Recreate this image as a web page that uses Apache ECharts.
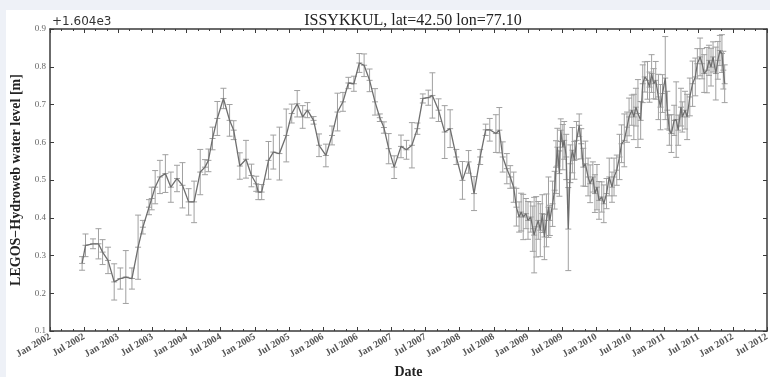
<!DOCTYPE html>
<html>
<head>
<meta charset="utf-8">
<script src="https://cdn.jsdelivr.net/npm/echarts@6/dist/echarts.min.js"></script>
<style>
    html, body { margin: 0; padding: 0; background: #eef1f7; }
    .panel { position: absolute; left: 6px; top: 10px; width: 764px; height: 367px; background: #ffffff; }
    #chart { position: absolute; left: 0; top: 0; width: 770px; height: 377px; }
</style>
</head>
<body>
<div class="panel"></div>
<div id="chart"></div>
<script>
    // water level, minus 1604 m (the axis shows the +1.604e3 offset)
    // time in decimal years
    const envisatTime = [
        2002.47, 2002.52, 2002.63, 2002.71, 2002.77, 2002.85, 2002.94, 2003.03, 2003.11, 2003.20,
        2003.29, 2003.36, 2003.45, 2003.49, 2003.54, 2003.61, 2003.69, 2003.77, 2003.86, 2003.94,
        2004.03, 2004.11, 2004.20, 2004.27, 2004.32, 2004.38, 2004.45, 2004.54, 2004.63, 2004.69,
        2004.78, 2004.87, 2004.95, 2005.02, 2005.05, 2005.10, 2005.20, 2005.27, 2005.36, 2005.46,
        2005.54, 2005.62, 2005.70, 2005.77, 2005.86, 2005.94, 2006.04, 2006.13, 2006.21, 2006.29,
        2006.37, 2006.45, 2006.53, 2006.60, 2006.68, 2006.76, 2006.83, 2006.89, 2006.96, 2007.04,
        2007.14, 2007.22, 2007.30, 2007.38, 2007.46, 2007.54, 2007.60, 2007.69, 2007.78, 2007.86,
        2007.95, 2008.04, 2008.13, 2008.21, 2008.30, 2008.38, 2008.44, 2008.53, 2008.58, 2008.63
    ];
    const envisatLevel = [
        0.279, 0.327, 0.331, 0.331, 0.309, 0.287, 0.230, 0.239, 0.243, 0.239,
        0.322, 0.375, 0.428, 0.451, 0.481, 0.508, 0.517, 0.481, 0.504, 0.486,
        0.442, 0.442, 0.521, 0.534, 0.552, 0.610, 0.663, 0.716, 0.658, 0.632,
        0.537, 0.555, 0.512, 0.490, 0.468, 0.468, 0.552, 0.574, 0.570, 0.618,
        0.676, 0.702, 0.667, 0.685, 0.658, 0.592, 0.565, 0.618, 0.680, 0.707,
        0.757, 0.755, 0.810, 0.804, 0.764, 0.707, 0.665, 0.639, 0.583, 0.534,
        0.589, 0.580, 0.592, 0.636, 0.716, 0.718, 0.724, 0.685, 0.627, 0.636,
        0.561, 0.499, 0.548, 0.464, 0.561, 0.633, 0.633, 0.623, 0.632, 0.561
    ];
    const envisatErr = [
        0.018, 0.030, 0.013, 0.040, 0.033, 0.035, 0.048, 0.028, 0.070, 0.028,
        0.085, 0.018, 0.020, 0.030, 0.044, 0.044, 0.050, 0.040, 0.035, 0.060,
        0.035, 0.055, 0.060, 0.020, 0.030, 0.030, 0.045, 0.027, 0.042, 0.025,
        0.035, 0.050, 0.030, 0.020, 0.020, 0.020, 0.050, 0.045, 0.070, 0.070,
        0.025, 0.035, 0.030, 0.020, 0.010, 0.030, 0.030, 0.025, 0.050, 0.025,
        0.015, 0.020, 0.025, 0.030, 0.030, 0.035, 0.010, 0.015, 0.040, 0.030,
        0.030, 0.025, 0.060, 0.015, 0.012, 0.020, 0.060, 0.030, 0.070, 0.050,
        0.020, 0.050, 0.030, 0.045, 0.020, 0.015, 0.030, 0.050, 0.060, 0.040
    ];
    const jasonTime = [
        2008.69, 2008.74, 2008.79, 2008.83, 2008.87, 2008.90, 2008.93, 2008.97, 2009.00, 2009.04,
        2009.07, 2009.09, 2009.12, 2009.15, 2009.18, 2009.21, 2009.24, 2009.27, 2009.30, 2009.32,
        2009.36, 2009.39, 2009.41, 2009.43, 2009.46, 2009.48, 2009.51, 2009.53, 2009.56, 2009.59,
        2009.62, 2009.65, 2009.68, 2009.71, 2009.75, 2009.78, 2009.81, 2009.84, 2009.88, 2009.91,
        2009.95, 2009.98, 2010.01, 2010.04, 2010.08, 2010.11, 2010.15, 2010.19, 2010.23, 2010.26,
        2010.30, 2010.34, 2010.37, 2010.41, 2010.45, 2010.48, 2010.52, 2010.55, 2010.58, 2010.61,
        2010.65, 2010.68, 2010.71, 2010.75, 2010.78, 2010.81, 2010.84, 2010.87, 2010.91, 2010.94,
        2010.97, 2011.01, 2011.04, 2011.07, 2011.10, 2011.14, 2011.17, 2011.20, 2011.24, 2011.26,
        2011.30, 2011.33, 2011.37, 2011.41, 2011.45, 2011.48, 2011.52, 2011.55, 2011.58, 2011.62,
        2011.65, 2011.68, 2011.71, 2011.75, 2011.78, 2011.81, 2011.84, 2011.86, 2011.88
    ];
    const jasonLevel = [
        0.530, 0.508, 0.481, 0.428, 0.402, 0.415, 0.402, 0.411, 0.393, 0.402,
        0.371, 0.354, 0.376, 0.393, 0.367, 0.411, 0.349, 0.393, 0.428, 0.393,
        0.437, 0.473, 0.534, 0.587, 0.517, 0.632, 0.587, 0.605, 0.561, 0.370,
        0.543, 0.579, 0.552, 0.605, 0.645, 0.596, 0.534, 0.543, 0.508, 0.490,
        0.508, 0.464, 0.481, 0.446, 0.455, 0.437, 0.464, 0.508, 0.481, 0.508,
        0.526, 0.561, 0.596, 0.605, 0.640, 0.667, 0.685, 0.667, 0.693, 0.676,
        0.658, 0.755, 0.773, 0.764, 0.746, 0.782, 0.755, 0.764, 0.720, 0.693,
        0.729, 0.770, 0.685, 0.632, 0.623, 0.658, 0.660, 0.632, 0.693, 0.667,
        0.685, 0.667, 0.720, 0.755, 0.773, 0.808, 0.826, 0.808, 0.782, 0.791,
        0.817, 0.799, 0.826, 0.782, 0.817, 0.843, 0.835, 0.791, 0.755
    ];
    const jasonErr = [
        0.040, 0.030, 0.040, 0.050, 0.040, 0.050, 0.060, 0.040, 0.050, 0.040,
        0.060, 0.100, 0.080, 0.050, 0.070, 0.050, 0.060, 0.070, 0.080, 0.040,
        0.060, 0.050, 0.070, 0.050, 0.060, 0.030, 0.060, 0.050, 0.060, 0.110,
        0.050, 0.060, 0.050, 0.050, 0.030, 0.040, 0.050, 0.060, 0.050, 0.050,
        0.040, 0.050, 0.060, 0.050, 0.040, 0.050, 0.040, 0.050, 0.040, 0.050,
        0.040, 0.060, 0.050, 0.070, 0.040, 0.050, 0.040, 0.060, 0.050, 0.090,
        0.050, 0.050, 0.040, 0.050, 0.040, 0.050, 0.040, 0.050, 0.060, 0.060,
        0.050, 0.110, 0.050, 0.040, 0.050, 0.040, 0.100, 0.040, 0.050, 0.040,
        0.050, 0.060, 0.050, 0.060, 0.050, 0.040, 0.050, 0.040, 0.050, 0.060,
        0.040, 0.050, 0.040, 0.070, 0.050, 0.040, 0.050, 0.050, 0.050
    ];
    const monthNames = ['Jan', 'Jul'];

    const time = envisatTime.concat(jasonTime);
    const level = envisatLevel.concat(jasonLevel);
    const err = envisatErr.concat(jasonErr);
    const lineData = time.map((t, i) => [t, level[i]]);
    const errData = time.map((t, i) => [t, level[i] - err[i], level[i] + err[i], level[i]]);

    const serif = '"Liberation Serif", "DejaVu Serif", serif';
    const frame = '#3a3a3a';

    const chart = echarts.init(document.getElementById('chart'), null, {renderer: 'canvas'});
    chart.setOption({
        backgroundColor: 'transparent',
        animation: false,
        title: {
            text: 'ISSYKKUL, lat=42.50 lon=77.10',
            left: 408, top: 8,
            textAlign: 'center',
            textStyle: {fontFamily: serif, fontSize: 16, fontWeight: 'normal', color: '#222'}
        },
        graphic: [{
            type: 'text', left: 52, top: 16,
            style: {text: '+1.604e3', font: '12px "DejaVu Sans", sans-serif', fill: '#333'}
        }],
        grid: {left: 50, top: 29, right: 3, bottom: 46, outerBoundsMode: 'none', containLabel: false},
        xAxis: [{
            type: 'value', min: 2002, max: 2012.5, interval: 0.5,
            name: 'Date', nameLocation: 'middle', nameGap: 31,
            nameTextStyle: {fontFamily: serif, fontSize: 14, fontWeight: 'bold', color: '#222'},
            axisLine: {lineStyle: {color: frame, width: 1.5}},
            axisTick: {inside: true, length: 4, lineStyle: {color: frame}},
            minorTick: {show: true, splitNumber: 3, length: 2, lineStyle: {color: frame}},
            splitLine: {show: false},
            axisLabel: {
                rotate: 30, margin: 5, fontFamily: serif, fontSize: 10, fontWeight: 'bold', color: '#555',
                formatter: v => monthNames[Math.round((v % 1) * 2)] + ' ' + Math.floor(v + 1e-6)
            }
        }, {
            type: 'value', position: 'top', min: 2002, max: 2012.5, interval: 0.5,
            axisLine: {lineStyle: {color: frame, width: 1.5}},
            axisTick: {inside: true, length: 4, lineStyle: {color: frame}},
            minorTick: {show: true, splitNumber: 3, length: 2, lineStyle: {color: frame}},
            splitLine: {show: false},
            axisLabel: {show: false}
        }],
        yAxis: [{
            type: 'value', min: 0.1, max: 0.9, interval: 0.1,
            name: 'LEGOS\u2212Hydroweb water level [m]', nameLocation: 'middle', nameGap: 25,
            nameTextStyle: {fontFamily: serif, fontSize: 14, fontWeight: 'bold', color: '#222'},
            axisLine: {show: true, lineStyle: {color: frame, width: 1.5}},
            axisTick: {show: true, inside: true, length: 4, lineStyle: {color: frame}},
            splitLine: {show: false},
            axisLabel: {
                margin: 4, fontFamily: serif, fontSize: 9, color: '#666',
                formatter: v => v.toFixed(1)
            }
        }, {
            type: 'value', position: 'right', min: 0.1, max: 0.9, interval: 0.1,
            axisLine: {show: true, lineStyle: {color: frame, width: 1.5}},
            axisTick: {show: true, inside: true, length: 4, lineStyle: {color: frame}},
            splitLine: {show: false},
            axisLabel: {show: false}
        }],
        series: [{
            type: 'custom',
            name: 'error',
            xAxisIndex: 0, yAxisIndex: 0,
            data: errData,
            encode: {x: 0, y: [1, 2]},
            renderItem: function (params, api) {
                const lo = api.coord([api.value(0), api.value(1)]);
                const hi = api.coord([api.value(0), api.value(2)]);
                const mid = api.coord([api.value(0), api.value(3)]);
                const w = 3;
                const st = {stroke: '#a0a0a0', lineWidth: 1};
                return {
                    type: 'group',
                    children: [
                        {type: 'line', shape: {x1: lo[0], y1: lo[1], x2: hi[0], y2: hi[1]}, style: st},
                        {type: 'line', shape: {x1: lo[0] - w, y1: lo[1], x2: lo[0] + w, y2: lo[1]}, style: st},
                        {type: 'line', shape: {x1: hi[0] - w, y1: hi[1], x2: hi[0] + w, y2: hi[1]}, style: st},
                        {type: 'line', shape: {x1: mid[0] - w, y1: mid[1], x2: mid[0] + w, y2: mid[1]}, style: st}
                    ]
                };
            },
            z: 2
        }, {
            type: 'line',
            name: 'level',
            xAxisIndex: 0, yAxisIndex: 0,
            data: lineData,
            showSymbol: false,
            lineStyle: {color: '#6e6e6e', width: 1.3},
            z: 3
        }]
    });
</script>
</body>
</html>
